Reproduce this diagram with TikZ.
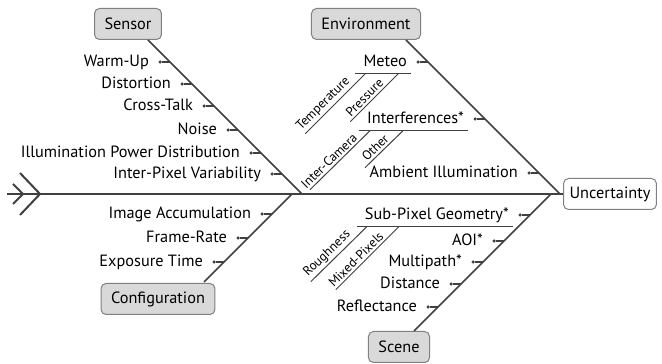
\documentclass[tikz,border=0pt]{standalone}
\usepackage{fontspec}
\setmainfont{PT Sans}
\usetikzlibrary{positioning, calc, arrows.meta}

\definecolor{bonegray}{HTML}{404040}
\definecolor{boxfill}{HTML}{D9D9D9}
\definecolor{boxline}{HTML}{808080}

\begin{document}
\begin{tikzpicture}[
    x=1pt, y=1pt,
    catbox/.style={rectangle, draw=boxline, line width=1pt, rounded corners=5pt, fill=boxfill, minimum height=31pt, inner xsep=10pt, font=\fontsize{16.3}{19}\selectfont},
    effectbox/.style={catbox, fill=white, inner xsep=6pt},
    cause/.style={inner sep=2pt, text height=12pt, text depth=3pt, font=\fontsize{16.3}{19}\selectfont},
    causedot/.style={circle, fill=bonegray, inner sep=0pt, minimum size=3.5pt},
    sublabel/.style={sloped, above, pos=0.4, inner sep=2pt, font=\fontsize{13}{15}\selectfont},
    spine/.style={draw=bonegray, line width=2pt},
    bone/.style={draw=bonegray, line width=1.5pt},
    tick/.style={draw=bonegray, line width=1.2pt},
    subbone/.style={draw=bonegray, line width=1pt}
]
    \useasboundingbox (0,0) rectangle (662,364);

    % head and tail
    \node[effectbox] (unc) at (610,170) {Uncertainty};
    \coordinate (tail) at (7,170);
    \draw[spine] (tail) -- (unc);
    \draw[spine] ($(tail)+(13,21)$) -- ($(tail)+(33,0)$) -- ($(tail)+(13,-21)$);
    \draw[spine] ($(tail)+(6,10)$) -- ($(tail)+(16,0)$) -- ($(tail)+(6,-10)$);

    % categories
    \node[catbox] (sensor) at (128,340) {Sensor};
    \node[catbox] (env) at (366,340) {Environment};
    \node[catbox] (config) at (158,65) {Configuration};
    \node[catbox] (scene) at (399,17) {Scene};

    \coordinate (sf) at (148,324); \coordinate (sj) at (302,170);
    \coordinate (cf) at (204,82);  \coordinate (cj) at (292,170);
    \coordinate (ef) at (406,324); \coordinate (ej) at (560,170);
    \coordinate (nf) at (414,33);  \coordinate (nj) at (551,170);

    \draw[bone] (sf) -- (sj);
    \draw[bone] (cf) -- (cj);
    \draw[bone] (ef) -- (ej);
    \draw[bone] (nf) -- (nj);

    % sensor causes
    \coordinate (s1) at (170,302); \coordinate (s2) at (192,280); \coordinate (s3) at (214,258);
    \coordinate (s4) at (238,234); \coordinate (s5) at (261,211); \coordinate (s6) at (282,190);
    \node[causedot, left=8pt of s1] (sd1) {};
    \node[cause, left=7pt of sd1] (warmup) {Warm-Up};
    \node[causedot, left=8pt of s2] (sd2) {};
    \node[cause, left=7pt of sd2] (distortion) {Distortion};
    \node[causedot, left=8pt of s3] (sd3) {};
    \node[cause, left=7pt of sd3] (crosstalk) {Cross-Talk};
    \node[causedot, left=8pt of s4] (sd4) {};
    \node[cause, left=7pt of sd4] (noise) {Noise};
    \node[causedot, left=8pt of s5] (sd5) {};
    \node[cause, left=7pt of sd5] (illum) {Illumination Power Distribution};
    \node[causedot, left=8pt of s6] (sd6) {};
    \node[cause, left=7pt of sd6] (interpix) {Inter-Pixel Variability};
    \draw[tick] (s1) -- (sd1);
    \draw[tick] (s2) -- (sd2);
    \draw[tick] (s3) -- (sd3);
    \draw[tick] (s4) -- (sd4);
    \draw[tick] (s5) -- (sd5);
    \draw[tick] (s6) -- (sd6);

    % configuration causes
    \coordinate (c1) at (272,150); \coordinate (c2) at (248,126); \coordinate (c3) at (224,102);
    \node[causedot, left=8pt of c1] (cd1) {};
    \node[cause, left=7pt of cd1] (accum) {Image Accumulation};
    \node[causedot, left=8pt of c2] (cd2) {};
    \node[cause, left=7pt of cd2] (framerate) {Frame-Rate};
    \node[causedot, left=8pt of c3] (cd3) {};
    \node[cause, left=7pt of cd3] (exposure) {Exposure Time};
    \draw[tick] (c1) -- (cd1);
    \draw[tick] (c2) -- (cd2);
    \draw[tick] (c3) -- (cd3);

    % environment causes
    \coordinate (e1) at (428,302); \coordinate (e2) at (485,245); \coordinate (e3) at (539,191);
    \node[causedot, left=8pt of e1] (ed1) {};
    \node[cause, left=7pt of ed1] (meteo) {Meteo};
    \node[causedot, left=8pt of e2] (ed2) {};
    \node[cause, left=7pt of ed2] (interf) {Interferences*};
    \node[causedot, left=8pt of e3] (ed3) {};
    \node[cause, left=7pt of ed3] (ambient) {Ambient Illumination};
    \draw[tick] (e1) -- (ed1);
    \draw[tick] (e2) -- (ed2);
    \draw[tick] (e3) -- (ed3);

    \draw[subbone] ([xshift=-6pt,yshift=-2pt]meteo.south west) coordinate (mu) -- ([xshift=2pt,yshift=-2pt]meteo.south east);
    \coordinate (mta) at ($(mu)+(10,0)$);  \coordinate (mtb) at ($(mta)+(-60,-60)$);
    \coordinate (mpa) at ($(mu)+(43,0)$);  \coordinate (mpb) at ($(mpa)+(-48,-48)$);
    \draw[subbone] (mtb) -- node[sublabel] (temp) {Temperature} (mta);
    \draw[subbone] (mpb) -- node[sublabel] (press) {Pressure} (mpa);

    \draw[subbone] ([xshift=-6pt,yshift=-2pt]interf.south west) coordinate (iu) -- ([xshift=2pt,yshift=-2pt]interf.south east);
    \coordinate (ica) at ($(iu)+(11,0)$);  \coordinate (icb) at ($(ica)+(-60,-59)$);
    \coordinate (ioa) at ($(iu)+(44,0)$);  \coordinate (iob) at ($(ioa)+(-38,-37)$);
    \draw[subbone] (icb) -- node[sublabel] (intercam) {Inter-Camera} (ica);
    \draw[subbone] (iob) -- node[sublabel] (other) {Other} (ioa);

    % scene causes
    \coordinate (n1) at (530,149); \coordinate (n2) at (504,123); \coordinate (n3) at (483,102);
    \coordinate (n4) at (461,80);  \coordinate (n5) at (438,57);
    \node[causedot, left=8pt of n1] (nd1) {};
    \node[cause, left=7pt of nd1] (subpix) {Sub-Pixel Geometry*};
    \node[causedot, left=8pt of n2] (nd2) {};
    \node[cause, left=7pt of nd2] (aoi) {AOI*};
    \node[causedot, left=8pt of n3] (nd3) {};
    \node[cause, left=7pt of nd3] (multipath) {Multipath*};
    \node[causedot, left=8pt of n4] (nd4) {};
    \node[cause, left=7pt of nd4] (distance) {Distance};
    \node[causedot, left=8pt of n5] (nd5) {};
    \node[cause, left=7pt of nd5] (reflect) {Reflectance};
    \draw[tick] (n1) -- (nd1);
    \draw[tick] (n2) -- (nd2);
    \draw[tick] (n3) -- (nd3);
    \draw[tick] (n4) -- (nd4);
    \draw[tick] (n5) -- (nd5);

    \draw[subbone] ([xshift=-6pt,yshift=-2pt]subpix.south west) coordinate (su) -- ([xshift=2pt,yshift=-2pt]subpix.south east);
    \coordinate (sra) at ($(su)+(10,0)$);  \coordinate (srb) at ($(sra)+(-56,-55)$);
    \coordinate (sma) at ($(su)+(42,0)$);  \coordinate (smb) at ($(sma)+(-63,-63)$);
    \draw[subbone] (srb) -- node[sublabel] (rough) {Roughness} (sra);
    \draw[subbone] (smb) -- node[sublabel] (mixed) {Mixed-Pixels} (sma);
\end{tikzpicture}
\end{document}
